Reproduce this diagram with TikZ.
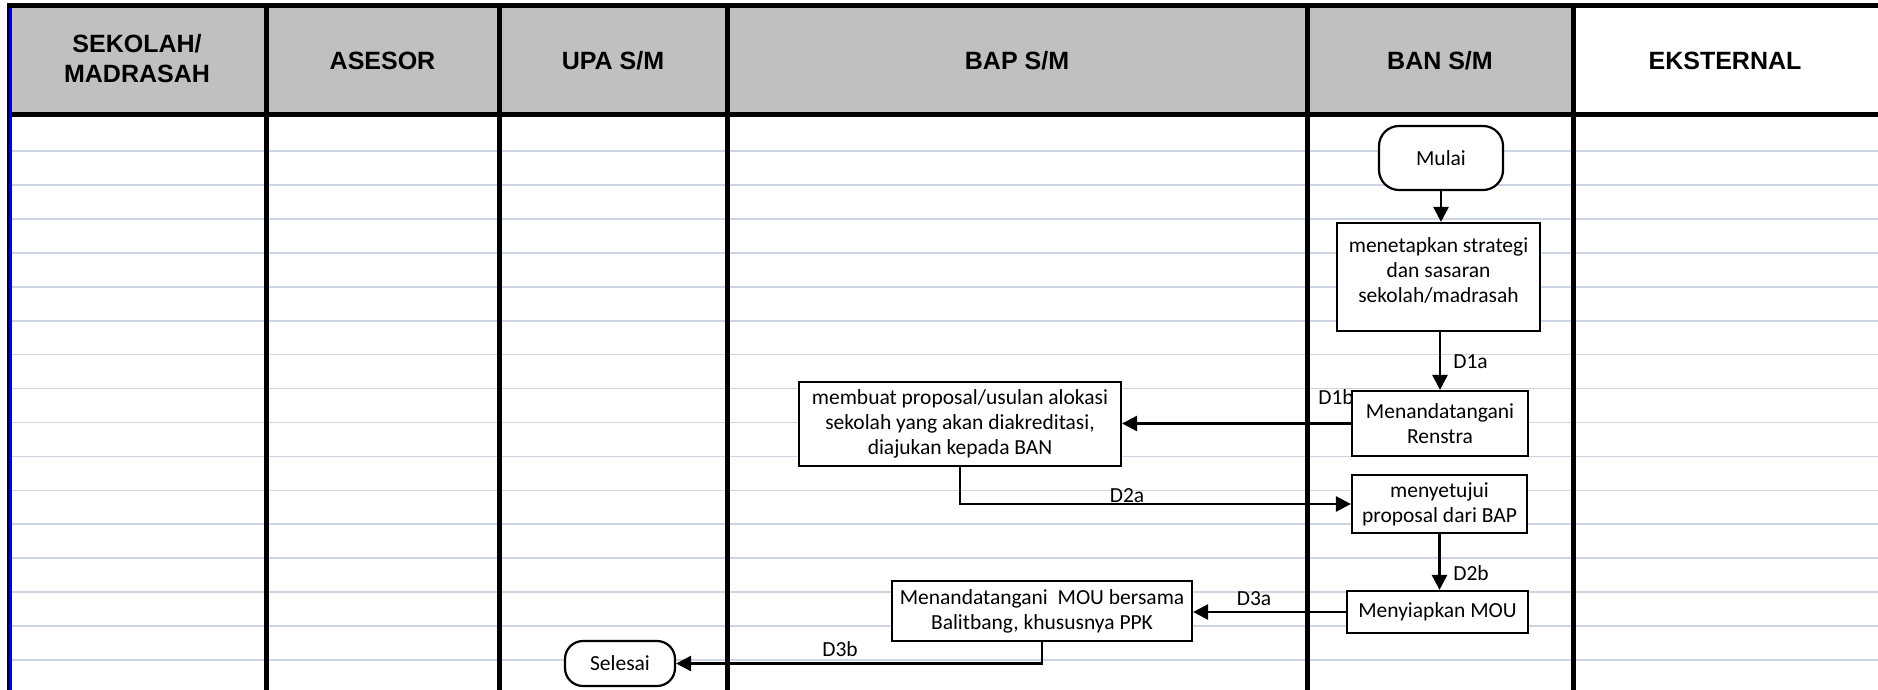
\documentclass[tikz,border=0pt]{standalone}
\usepackage{fontspec}
\setmainfont{Carlito}
\newfontfamily\headfont{Liberation Sans}
\usetikzlibrary{arrows.meta}
\definecolor{headgray}{HTML}{C0C0C0}
\definecolor{rulegray}{HTML}{CDD5E4}
\definecolor{edgeblue}{HTML}{0000D8}

\begin{document}
\begin{tikzpicture}[x=1pt,y=-1pt,
  lanerule/.style={line width=5pt},
  gridrule/.style={draw=rulegray,line width=1.7pt},
  headtext/.style={font=\headfont\bfseries\fontsize{25}{30}\selectfont,align=center,inner sep=0pt},
  procbox/.style={draw,line width=2.2pt,fill=white,inner sep=0pt,align=center,font=\fontsize{21.5}{25}\selectfont},
  termbox/.style={procbox,rounded corners=20pt},
  flow/.style={line width=2.7pt,-{Triangle[width=15pt,length=15pt]}},
  tag/.style={font=\fontsize{21.5}{25}\selectfont,inner sep=0pt},
]
\useasboundingbox (0,0) rectangle (1878,690);
\fill[white] (0,0) rectangle (1878,690);

% header band and ruled rows
\fill[headgray] (9,6) rectangle (1573,114);
\foreach \k in {0,...,15}
  \draw[gridrule] (11,151+33.94*\k) -- (1878,151+33.94*\k);

% swimlane frame
\draw[lanerule] (7,6) -- (1878,6);
\draw[lanerule] (7,114.5) -- (1878,114.5);
\foreach \x in {266.5,499,727,1307.5,1573}
  \draw[lanerule] (\x,3.5) -- (\x,690);
\draw[line width=2.5pt] (7.8,3.5) -- (7.8,690);
\draw[edgeblue,line width=3pt] (10.4,8) -- (10.4,690);

% lane titles
\node[headtext] (hsek) at (137,59) {SEKOLAH/\\MADRASAH};
\node[headtext] (hase) at (382.5,61) {ASESOR};
\node[headtext] (hupa) at (613,61) {UPA S/M};
\node[headtext] (hbap) at (1017,61) {BAP S/M};
\node[headtext] (hban) at (1440,61) {BAN S/M};
\node[headtext] (heks) at (1725,61) {EKSTERNAL};

% process steps
\node[termbox,minimum width=124pt,minimum height=64pt] (mulai) at (1441,158) {Mulai};
\node[procbox,minimum width=203pt,minimum height=108pt] (strategi) at (1438.5,277)
  {\begin{tabular}{@{}c@{}}menetapkan strategi\\dan sasaran\\sekolah/madrasah\\[10pt]\end{tabular}};
\node[procbox,minimum width=176pt,minimum height=65pt] (renstra) at (1440,423.5) {Menandatangani\\Renstra};
\node[procbox,minimum width=322pt,minimum height=84pt] (membuat) at (960,424)
  {membuat proposal/usulan alokasi\\sekolah yang akan diakreditasi,\\diajukan kepada BAN};
\node[procbox,minimum width=175pt,minimum height=58pt] (menyetujui) at (1439.5,504) {menyetujui\\proposal dari BAP};
\node[procbox,minimum width=181pt,minimum height=42pt] (siapmou) at (1437.5,612) {Menyiapkan MOU};
\node[procbox,minimum width=300pt,minimum height=60pt] (tandamou) at (1042,611)
  {Menandatangani~ MOU bersama\\Balitbang, khususnya PPK};
\node[termbox,rounded corners=18pt,minimum width=110pt,minimum height=45pt] (selesai) at (620,663.5) {Selesai};

% flow labels
\node[tag] (d1a) at (1470.5,362) {D1a};
\node[tag] (d1b) at (1336,397) {D1b};
\node[tag] (d2a) at (1127,496) {D2a};
\node[tag] (d2b) at (1471,573) {D2b};
\node[tag] (d3a) at (1254,599) {D3a};
\node[tag] (d3b) at (840,649) {D3b};

% connectors
\draw[flow] (mulai.south) -- (mulai.south |- strategi.north);
\draw[flow] (renstra.north |- strategi.south) -- (renstra.north);
\draw[flow] (renstra.west) -- (renstra.west -| membuat.east);
\draw[flow] (membuat.south) |- (menyetujui.west);
\draw[flow] (menyetujui.south) -- (menyetujui.south |- siapmou.north);
\draw[flow] (siapmou.west) -- (siapmou.west -| tandamou.east);
\draw[flow] (tandamou.south) |- (selesai.east);
\end{tikzpicture}
\end{document}
